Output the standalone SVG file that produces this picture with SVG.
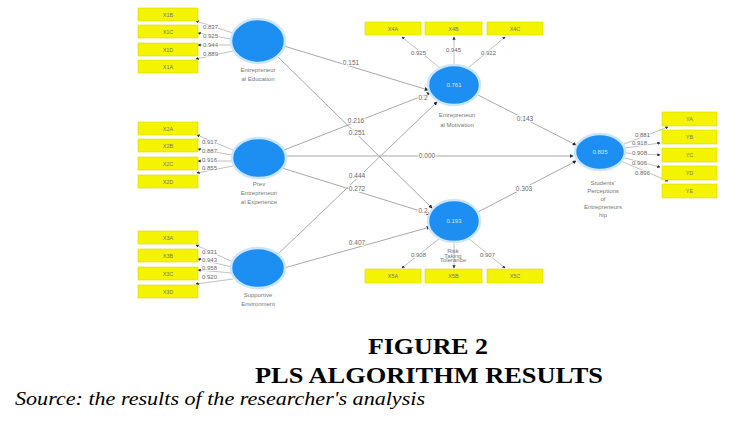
<svg xmlns="http://www.w3.org/2000/svg" width="744" height="425" viewBox="0 0 744 425">
<defs>
<marker id="ah" viewBox="0 0 6 6" refX="5" refY="3" markerWidth="4" markerHeight="4" orient="auto">
<path d="M0,0 L6,3 L0,6 z" fill="#1f2a44"/>
</marker>
<style>
.box{fill:#f4f400;stroke:#d8d800;stroke-width:0.6}
.bt{font-family:"Liberation Sans",Arial,sans-serif;font-size:5.5px;fill:#777;text-anchor:middle}
.lv{fill:#1e8ff2;stroke:#cde6ff;stroke-width:2.5}
.lvt{font-family:"Liberation Sans",Arial,sans-serif;font-size:6px;fill:#cfe6ff;text-anchor:middle}
.nl{font-family:"Liberation Sans",Arial,sans-serif;font-size:6px;fill:#777;text-anchor:middle}
.ln{stroke:#a8a8a8;stroke-width:1;fill:none;marker-end:url(#ah)}
.lw{stroke:#b0b0b0;stroke-width:0.8;fill:none;marker-end:url(#ah)}
.cf{font-family:"Liberation Sans",Arial,sans-serif;font-size:6.5px;fill:#666;text-anchor:middle;stroke:#fff;stroke-width:2;paint-order:stroke}
.ld{font-family:"Liberation Sans",Arial,sans-serif;font-size:6px;fill:#666;stroke:#fff;stroke-width:1.5;paint-order:stroke}
.ttl{font-family:"Liberation Serif","Times New Roman",serif;font-weight:bold;font-size:23px;fill:#000;text-anchor:middle}
</style>
</defs>
<rect width="744" height="425" fill="#fff"/>

<g id="connectors">
<!-- structural paths -->
<line class="ln" x1="284" y1="46" x2="428" y2="90"/>
<line class="ln" x1="278" y1="57" x2="432" y2="208"/>
<line class="ln" x1="284" y1="150" x2="430" y2="93"/>
<line class="ln" x1="286" y1="156" x2="573" y2="156"/>
<line class="ln" x1="282" y1="168" x2="430" y2="214"/>
<line class="ln" x1="276" y1="256" x2="437" y2="102"/>
<line class="ln" x1="284" y1="268" x2="430" y2="227"/>
<line class="ln" x1="478" y1="95" x2="576" y2="145"/>
<line class="ln" x1="478" y1="212" x2="576" y2="161"/>
<!-- outer loadings group 1 -->
<line class="lw" x1="233" y1="33" x2="196" y2="21"/>
<line class="lw" x1="231" y1="39" x2="198" y2="33"/>
<line class="lw" x1="231" y1="45" x2="198" y2="45"/>
<line class="lw" x1="233" y1="51" x2="196" y2="59"/>
<!-- group 2 -->
<line class="lw" x1="233" y1="150" x2="197" y2="135"/>
<line class="lw" x1="232" y1="155" x2="198" y2="149"/>
<line class="lw" x1="232" y1="161" x2="198" y2="161"/>
<line class="lw" x1="233" y1="166" x2="197" y2="173"/>
<!-- group 3 -->
<line class="lw" x1="233" y1="262" x2="196" y2="245"/>
<line class="lw" x1="232" y1="267" x2="198" y2="259"/>
<line class="lw" x1="232" y1="273" x2="198" y2="270"/>
<line class="lw" x1="233" y1="279" x2="196" y2="284"/>
<!-- top -->
<line class="lw" x1="440" y1="68" x2="402" y2="37"/>
<line class="lw" x1="454" y1="65" x2="454" y2="37"/>
<line class="lw" x1="468" y1="68" x2="505" y2="37"/>
<!-- bottom -->
<line class="lw" x1="440" y1="238" x2="402" y2="268"/>
<line class="lw" x1="454" y1="242" x2="454" y2="268"/>
<line class="lw" x1="468" y1="238" x2="505" y2="268"/>
<!-- right -->
<line class="lw" x1="624" y1="144" x2="668" y2="127"/>
<line class="lw" x1="625" y1="148" x2="660" y2="143"/>
<line class="lw" x1="626" y1="153" x2="660" y2="155"/>
<line class="lw" x1="625" y1="158" x2="660" y2="167"/>
<line class="lw" x1="623" y1="162" x2="668" y2="181"/>
<!-- coefficient labels -->
<text class="cf" x="351" y="65">0.151</text>
<text class="cf" x="356" y="123">0.216</text>
<text class="cf" x="357" y="135">0.251</text>
<text class="cf" x="427" y="158">0.000</text>
<text class="cf" x="357" y="178">0.444</text>
<text class="cf" x="357" y="191">0.272</text>
<text class="cf" x="357" y="245">0.407</text>
<text class="cf" x="525" y="121">0.143</text>
<text class="cf" x="524" y="191">0.303</text>
<text class="cf" x="423" y="100">0.2</text>
<text class="cf" x="423" y="213">0.2</text>
<!-- loadings -->
<text class="ld" x="203" y="29">0.837</text>
<text class="ld" x="203" y="38">0.925</text>
<text class="ld" x="203" y="47">0.944</text>
<text class="ld" x="203" y="56">0.889</text>
<text class="ld" x="202" y="144">0.917</text>
<text class="ld" x="202" y="153">0.887</text>
<text class="ld" x="202" y="162">0.916</text>
<text class="ld" x="202" y="170">0.855</text>
<text class="ld" x="202" y="254">0.931</text>
<text class="ld" x="202" y="262">0.943</text>
<text class="ld" x="202" y="270">0.958</text>
<text class="ld" x="202" y="279">0.920</text>
<text class="ld" x="411" y="55">0.925</text>
<text class="ld" x="446" y="52">0.945</text>
<text class="ld" x="481" y="55">0.922</text>
<text class="ld" x="411" y="257">0.908</text>
<text class="ld" x="480" y="257">0.907</text>
<text class="ld" x="635" y="137">0.881</text>
<text class="ld" x="632" y="145">0.918</text>
<text class="ld" x="632" y="155">0.908</text>
<text class="ld" x="632" y="165">0.906</text>
<text class="ld" x="635" y="175">0.896</text>
</g>

<g id="X1B"><rect class="box" x="138" y="8" width="60" height="13"/><text class="bt" x="168" y="16.5">X1B</text></g>
<g id="X1C"><rect class="box" x="138" y="25" width="60" height="13"/><text class="bt" x="168" y="33.5">X1C</text></g>
<g id="X1D"><rect class="box" x="138" y="43" width="60" height="13"/><text class="bt" x="168" y="51.5">X1D</text></g>
<g id="X1A"><rect class="box" x="138" y="60" width="60" height="13"/><text class="bt" x="168" y="68.5">X1A</text></g>

<g id="X2A"><rect class="box" x="138" y="122" width="60" height="13"/><text class="bt" x="168" y="130.5">X2A</text></g>
<g id="X2B"><rect class="box" x="138" y="139" width="60" height="13"/><text class="bt" x="168" y="147.5">X2B</text></g>
<g id="X2C"><rect class="box" x="138" y="157" width="60" height="13"/><text class="bt" x="168" y="165.5">X2C</text></g>
<g id="X2D"><rect class="box" x="138" y="175" width="60" height="13"/><text class="bt" x="168" y="183.5">X2D</text></g>

<g id="X3A"><rect class="box" x="138" y="231" width="60" height="13"/><text class="bt" x="168" y="239.5">X3A</text></g>
<g id="X3B"><rect class="box" x="138" y="249" width="60" height="13"/><text class="bt" x="168" y="257.5">X3B</text></g>
<g id="X3C"><rect class="box" x="138" y="267" width="60" height="13"/><text class="bt" x="168" y="275.5">X3C</text></g>
<g id="X3D"><rect class="box" x="138" y="285" width="60" height="13"/><text class="bt" x="168" y="293.5">X3D</text></g>

<g id="X4A"><rect class="box" x="365" y="22" width="56" height="13"/><text class="bt" x="393" y="30.5">X4A</text></g>
<g id="X4B"><rect class="box" x="425" y="22" width="57" height="13"/><text class="bt" x="453.5" y="30.5">X4B</text></g>
<g id="X4C"><rect class="box" x="487" y="22" width="56" height="13"/><text class="bt" x="515" y="30.5">X4C</text></g>

<g id="X5A"><rect class="box" x="365" y="269" width="56" height="14"/><text class="bt" x="393" y="278">X5A</text></g>
<g id="X5B"><rect class="box" x="425" y="269" width="57" height="14"/><text class="bt" x="453.5" y="278">X5B</text></g>
<g id="X5C"><rect class="box" x="487" y="269" width="56" height="14"/><text class="bt" x="515" y="278">X5C</text></g>

<g id="YA"><rect class="box" x="662" y="112" width="55" height="14"/><text class="bt" x="689.5" y="121">YA</text></g>
<g id="YB"><rect class="box" x="662" y="130" width="55" height="14"/><text class="bt" x="689.5" y="139">YB</text></g>
<g id="YC"><rect class="box" x="662" y="148" width="55" height="14"/><text class="bt" x="689.5" y="157">YC</text></g>
<g id="YD"><rect class="box" x="662" y="166" width="55" height="14"/><text class="bt" x="689.5" y="175">YD</text></g>
<g id="YE"><rect class="box" x="662" y="184" width="55" height="14"/><text class="bt" x="689.5" y="193">YE</text></g>

<g id="EntrepreneurialEducation">
<ellipse class="lv" cx="258" cy="41" rx="27" ry="22"/>
<text class="nl" x="258" y="72">Entrepreneur</text>
<text class="nl" x="258" y="81">al Education</text>
</g>
<g id="PrevEntrepreneurialExperience">
<ellipse class="lv" cx="259" cy="158" rx="27" ry="20"/>
<text class="nl" x="259" y="186">Prev</text>
<text class="nl" x="259" y="195">Entrepreneuri</text>
<text class="nl" x="259" y="204">al Experience</text>
</g>
<g id="SupportiveEnvironment">
<ellipse class="lv" cx="258" cy="268" rx="27" ry="20"/>
<text class="nl" x="258" y="297">Supportive</text>
<text class="nl" x="258" y="306">Environment</text>
</g>
<g id="EntrepreneurialMotivation">
<ellipse class="lv" cx="454" cy="85" rx="26" ry="20"/>
<text class="lvt" x="454" y="87">0.761</text>
<text class="nl" x="457" y="117">Entrepreneuri</text>
<text class="nl" x="457" y="127">al Motivation</text>
</g>
<g id="RiskTolerance">
<ellipse class="lv" cx="454" cy="221" rx="26" ry="21"/>
<text class="lvt" x="454" y="223">0.193</text>
<text class="nl" x="453" y="253">Risk</text>
<text class="nl" x="453" y="257.5">Taking</text>
<text class="nl" x="453" y="262">Tolerance</text>
</g>
<g id="StudentsPerceptions">
<ellipse class="lv" cx="600" cy="152" rx="25" ry="18"/>
<text class="lvt" x="600" y="154">0.805</text>
<text class="nl" x="603" y="185">Students'</text>
<text class="nl" x="603" y="193">Perceptions</text>
<text class="nl" x="603" y="201">of</text>
<text class="nl" x="603" y="209">Entrepreneurs</text>
<text class="nl" x="603" y="217">hip</text>
</g>

<g id="caption">
<text class="ttl" x="428" y="354" textLength="120" lengthAdjust="spacingAndGlyphs">FIGURE 2</text>
<text class="ttl" x="429" y="383" textLength="348" lengthAdjust="spacingAndGlyphs">PLS ALGORITHM RESULTS</text>
<text x="15" y="405" font-family="'Liberation Serif','Times New Roman',serif" font-style="italic" font-size="19" fill="#000" textLength="410" lengthAdjust="spacingAndGlyphs">Source: the results of the researcher's analysis</text>
</g>
</svg>
